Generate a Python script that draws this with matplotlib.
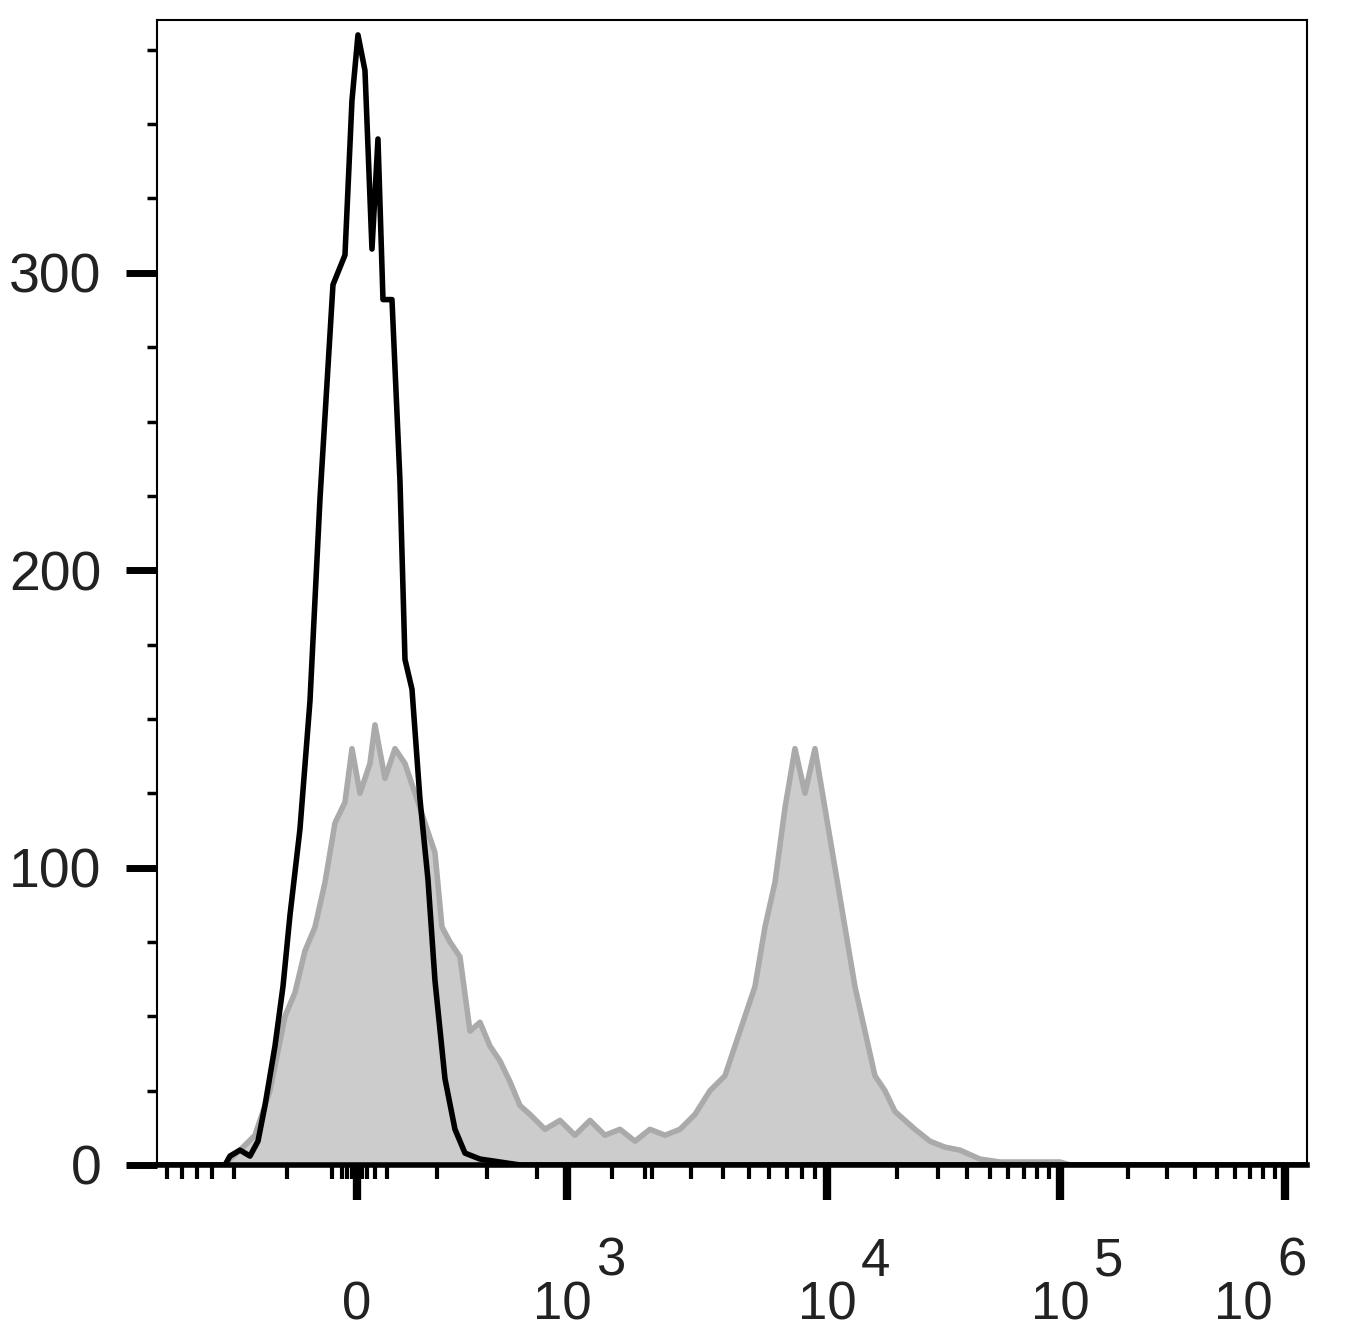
import matplotlib
matplotlib.use('Agg')
import matplotlib.pyplot as plt
import matplotlib.transforms as mtrans
import numpy as np

plt.rcParams['font.family'] = ['Liberation Sans', 'DejaVu Sans']

# x in display channels (biexponential scale), y in counts
black_x = [0, 68, 73, 83, 93, 101, 108, 118, 126, 133, 143, 153, 163, 176, 188, 195, 201, 208, 215, 221,
           226, 235, 243, 248, 255, 263, 271, 278, 288, 298, 308, 323, 343, 363, 1150]
black_y = [0, 0, 3, 5, 3, 8, 20, 40, 60, 84, 113, 156, 224, 296, 306, 358, 380, 368, 308, 345,
           291, 291, 230, 170, 160, 123, 96, 62, 29, 12, 4, 2, 1, 0, 0]

gray_x = [0, 68, 73, 83, 98, 113, 128, 138, 148, 158, 168, 178, 188, 195, 203, 213, 218, 228, 238, 248,
          258, 268, 278, 285, 293, 303, 313, 323, 333, 343, 353, 363, 373, 388, 403, 418, 433, 448, 463,
          478, 493, 508, 523, 538, 553, 568, 583, 598, 608, 618, 628, 638, 648, 658, 668, 678, 688, 698,
          708, 718, 728, 738, 748, 758, 773, 788, 803, 823, 843, 903, 913, 1150]
gray_y = [0, 0, 2, 5, 10, 25, 50, 58, 72, 80, 95, 115, 122, 140, 125, 135, 148, 130, 140, 135,
          125, 115, 105, 80, 75, 70, 45, 48, 40, 35, 28, 20, 17, 12, 15, 10, 15, 10, 12,
          8, 12, 10, 12, 17, 25, 30, 45, 60, 80, 95, 120, 140, 125, 140, 120, 100, 80, 60,
          45, 30, 25, 18, 15, 12, 8, 6, 5, 2, 1, 1, 0, 0]

x_label_pos = [200, 410, 670, 903, 1128]
x_exponents = ['', '3', '4', '5', '6']
x_label_shift = [0, -5, 0, 0, -42]

fig = plt.figure(figsize=(13.58, 13.36), dpi=100)
ax = fig.add_axes([0.1156, 0.128, 0.8468, 0.857])

ax.fill_between(gray_x, gray_y, color='#cccccc', lw=0)
ax.plot(gray_x, gray_y, color='#aaaaaa', lw=4)
ax.plot(black_x, black_y, color='black', lw=4)

ax.set_xlim(0, 1150)
ax.set_ylim(0, 385)
for s in ax.spines.values():
    s.set_linewidth(1.5)
ax.spines['bottom'].set_linewidth(4)

ax.set_yticks([0, 100, 200, 300])
ax.set_yticklabels(['0', '100', '200', '300'], fontsize=40, color='#222222')
ax.set_yticks(np.arange(25, 385, 25), minor=True)
ax.tick_params(axis='y', which='major', length=22, width=5, pad=18)
ax.tick_params(axis='y', which='minor', length=7, width=2.5)

ax.set_xticks(x_label_pos)
ax.set_xticklabels([])
ax.tick_params(axis='x', which='major', length=25, width=6)
minor = [10, 25, 40, 55, 77, 130, 175, 185, 190, 195, 205, 210, 218, 230, 280, 330, 380, 455, 495]
for d0, span in [(410, 260), (670, 233), (903, 225)]:
    minor += [d0 + np.log10(k) * span for k in range(2, 10)]
ax.set_xticks(minor, minor=True)
ax.tick_params(axis='x', which='minor', length=10, width=3)

# x labels: "0" and 10 with a large raised exponent
trans = mtrans.blended_transform_factory(ax.transData, fig.transFigure)
for pos, ex, sh in zip(x_label_pos, x_exponents, x_label_shift):
    if ex == '':
        ax.text(pos, 0.012, '0', transform=trans, fontsize=38, ha='center', va='baseline', color='#222222')
    else:
        ax.text(pos + sh, 0.012, '10', transform=trans, fontsize=38, ha='center', va='baseline', color='#222222')
        ax.text(pos + sh + 34, 0.045, ex, transform=trans, fontsize=38, ha='left', va='baseline', color='#222222')

fig.savefig('out.png', dpi=100, facecolor='white')
